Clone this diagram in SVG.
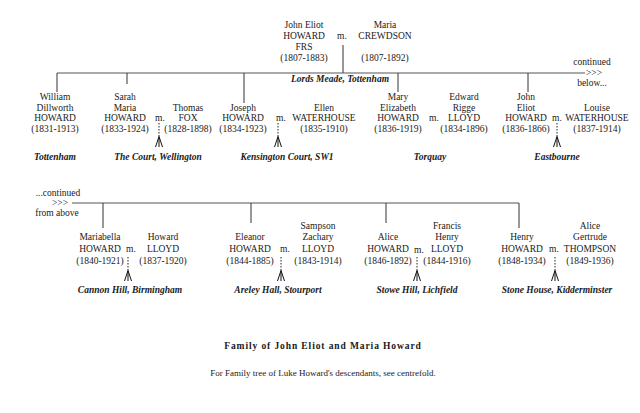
<svg xmlns="http://www.w3.org/2000/svg" xmlns:xlink="http://www.w3.org/1999/xlink" width="640" height="413" viewBox="0 0 640 413">
<style>
text { font-family: "Liberation Serif", "Times New Roman", serif; font-size: 9.5px; fill: #1a1a1a; }
.c { text-anchor: middle; }
.p { font-weight: bold; font-style: italic; text-anchor: middle; }
.t { font-weight: bold; text-anchor: middle; letter-spacing: 0.9px; }
.h { stroke: #555; stroke-width: 1; fill: none; }
.v { stroke: #333; stroke-width: 1; fill: none; }
.dash { stroke: #222; stroke-width: 1; stroke-dasharray: 1.5 1.5; fill: none; }
.chev { stroke: #111; stroke-width: 1; fill: none; }
</style>
<defs>
<g id="wed">
<line class="dash" x1="0" y1="0" x2="0" y2="14"/>
<line class="chev" x1="0" y1="14" x2="0" y2="24"/>
<polyline class="chev" points="-3.5,24 0,13.5 3.5,24"/>
</g>
</defs>
<rect width="640" height="413" fill="#ffffff"/>

<g id="connectors">
<line class="v" x1="343" y1="45" x2="343" y2="73"/>
<line class="h" x1="57" y1="73" x2="585" y2="73"/>
<line class="v" x1="57" y1="73" x2="57" y2="92"/>
<line class="v" x1="127" y1="73" x2="127" y2="84"/>
<line class="v" x1="244" y1="73" x2="244" y2="103"/>
<line class="v" x1="398" y1="73" x2="398" y2="92"/>
<line class="v" x1="528" y1="73" x2="528" y2="92"/>
<line class="h" x1="72" y1="203" x2="519" y2="203"/>
<line class="v" x1="103" y1="203" x2="103" y2="228"/>
<line class="v" x1="251" y1="203" x2="251" y2="223"/>
<line class="v" x1="386" y1="203" x2="386" y2="223"/>
<line class="v" x1="519" y1="203" x2="519" y2="228"/>
<use xlink:href="#wed" href="#wed" x="159" y="123"/>
<use xlink:href="#wed" href="#wed" x="278" y="123"/>
<use xlink:href="#wed" href="#wed" x="557" y="123"/>
<use xlink:href="#wed" href="#wed" x="128" y="257"/>
<use xlink:href="#wed" href="#wed" x="281" y="257"/>
<use xlink:href="#wed" href="#wed" x="417" y="257"/>
<use xlink:href="#wed" href="#wed" x="555" y="257"/>
</g>

<g id="john-eliot-howard">
<text class="c" x="304" y="28">John Eliot</text>
<text class="c" x="304" y="39">HOWARD</text>
<text class="c" x="304" y="50">FRS</text>
<text class="c" x="304" y="61">(1807-1883)</text>
</g>
<g id="m-parents"><text class="c" x="342" y="39">m.</text></g>
<g id="maria-crewdson">
<text class="c" x="385" y="28">Maria</text>
<text class="c" x="385" y="39">CREWDSON</text>
<text class="c" x="385" y="61">(1807-1892)</text>
</g>
<g id="lords-meade"><text class="p" x="340" y="82">Lords Meade, Tottenham</text></g>
<g id="continued-below">
<text class="c" x="592" y="65">continued</text>
<text class="c" x="594" y="76">&gt;&gt;&gt;</text>
<text class="c" x="592" y="86">below...</text>
</g>

<g id="william">
<text class="c" x="55" y="100">William</text>
<text class="c" x="55" y="110.5">Dillworth</text>
<text class="c" x="55" y="121">HOWARD</text>
<text class="c" x="55" y="132">(1831-1913)</text>
<text class="p" x="55" y="160">Tottenham</text>
</g>
<g id="sarah">
<text class="c" x="125" y="100">Sarah</text>
<text class="c" x="125" y="110.5">Maria</text>
<text class="c" x="125" y="121">HOWARD</text>
<text class="c" x="125" y="132">(1833-1924)</text>
<text class="c" x="160" y="121">m.</text>
</g>
<g id="thomas-fox">
<text class="c" x="188" y="110.5">Thomas</text>
<text class="c" x="188" y="121">FOX</text>
<text class="c" x="188" y="132">(1828-1898)</text>
<text class="p" x="158" y="160">The Court, Wellington</text>
</g>
<g id="joseph">
<text class="c" x="243" y="110.5">Joseph</text>
<text class="c" x="243" y="121">HOWARD</text>
<text class="c" x="243" y="132">(1834-1923)</text>
<text class="c" x="281" y="121">m.</text>
</g>
<g id="ellen-waterhouse">
<text class="c" x="324" y="110.5">Ellen</text>
<text class="c" x="324" y="121">WATERHOUSE</text>
<text class="c" x="324" y="132">(1835-1910)</text>
<text class="p" x="287" y="160">Kensington Court, SW1</text>
</g>
<g id="mary-elizabeth">
<text class="c" x="398" y="100">Mary</text>
<text class="c" x="398" y="110.5">Elizabeth</text>
<text class="c" x="398" y="121">HOWARD</text>
<text class="c" x="398" y="132">(1836-1919)</text>
<text class="c" x="434" y="121">m.</text>
</g>
<g id="edward-lloyd">
<text class="c" x="464" y="100">Edward</text>
<text class="c" x="464" y="110.5">Rigge</text>
<text class="c" x="464" y="121">LLOYD</text>
<text class="c" x="464" y="132">(1834-1896)</text>
<text class="p" x="430" y="160">Torquay</text>
</g>
<g id="john-eliot-jr">
<text class="c" x="526" y="100">John</text>
<text class="c" x="526" y="110.5">Eliot</text>
<text class="c" x="526" y="121">HOWARD</text>
<text class="c" x="526" y="132">(1836-1866)</text>
<text class="c" x="557" y="121">m.</text>
</g>
<g id="louise-waterhouse">
<text class="c" x="597" y="110.5">Louise</text>
<text class="c" x="597" y="121">WATERHOUSE</text>
<text class="c" x="597" y="132">(1837-1914)</text>
<text class="p" x="557" y="160">Eastbourne</text>
</g>

<g id="continued-from-above">
<text class="c" x="58" y="196">...continued</text>
<text class="c" x="60" y="206">&gt;&gt;&gt;</text>
<text class="c" x="57" y="216">from above</text>
</g>
<g id="mariabella">
<text class="c" x="100" y="240">Mariabella</text>
<text class="c" x="100" y="252">HOWARD</text>
<text class="c" x="100" y="264">(1840-1921)</text>
<text class="c" x="131" y="252">m.</text>
</g>
<g id="howard-lloyd">
<text class="c" x="163" y="240">Howard</text>
<text class="c" x="163" y="252">LLOYD</text>
<text class="c" x="163" y="264">(1837-1920)</text>
<text class="p" x="130" y="293">Cannon Hill, Birmingham</text>
</g>
<g id="eleanor">
<text class="c" x="250" y="240">Eleanor</text>
<text class="c" x="250" y="252">HOWARD</text>
<text class="c" x="250" y="264">(1844-1885)</text>
<text class="c" x="285" y="252">m.</text>
</g>
<g id="sampson-lloyd">
<text class="c" x="318" y="229">Sampson</text>
<text class="c" x="318" y="240">Zachary</text>
<text class="c" x="318" y="252">LLOYD</text>
<text class="c" x="318" y="264">(1843-1914)</text>
<text class="p" x="278" y="293">Areley Hall, Stourport</text>
</g>
<g id="alice">
<text class="c" x="388" y="240">Alice</text>
<text class="c" x="388" y="252">HOWARD</text>
<text class="c" x="388" y="264">(1846-1892)</text>
<text class="c" x="419" y="253">m.</text>
</g>
<g id="francis-lloyd">
<text class="c" x="447" y="229">Francis</text>
<text class="c" x="447" y="240">Henry</text>
<text class="c" x="447" y="252">LLOYD</text>
<text class="c" x="447" y="264">(1844-1916)</text>
<text class="p" x="417" y="293">Stowe Hill, Lichfield</text>
</g>
<g id="henry">
<text class="c" x="522" y="240">Henry</text>
<text class="c" x="522" y="252">HOWARD</text>
<text class="c" x="522" y="264">(1848-1934)</text>
<text class="c" x="554" y="252">m.</text>
</g>
<g id="alice-thompson">
<text class="c" x="590" y="229">Alice</text>
<text class="c" x="590" y="240">Gertrude</text>
<text class="c" x="590" y="252">THOMPSON</text>
<text class="c" x="590" y="264">(1849-1936)</text>
<text class="p" x="557" y="293">Stone House, Kidderminster</text>
</g>

<g id="title">
<text class="t" x="323" y="349">Family of John Eliot and Maria Howard</text>
<text class="c" x="323" y="376" style="font-size:9px">For Family tree of Luke Howard's descendants, see centrefold.</text>
</g>
</svg>
